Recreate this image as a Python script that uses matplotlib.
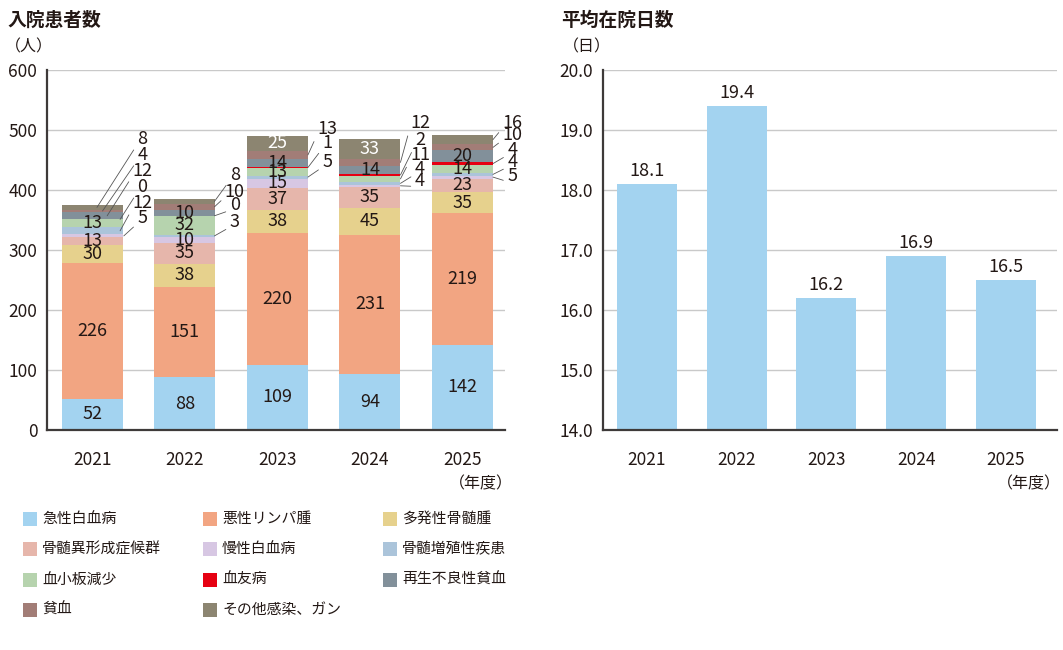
import matplotlib.pyplot as plt
from matplotlib.patches import Rectangle

plt.rcParams['font.family'] = ['Noto Sans CJK JP', 'DejaVu Sans']

years = ['2021', '2022', '2023', '2024', '2025']
categories = ['急性白血病', '悪性リンパ腫', '多発性骨髄腫', '骨髄異形成症候群', '慢性白血病',
              '骨髄増殖性疾患', '血小板減少', '血友病', '再生不良性貧血', '貧血', 'その他感染、ガン']
colors = ['#a3d3f0', '#f2a582', '#e6d18d', '#e6b6ab', '#d7c7e3', '#abc4da',
          '#b6d3ae', '#e60012', '#82909a', '#a27d77', '#8c8571']

# patients per category, one list per category (2021..2025)
acute_leukemia = [52, 88, 109, 94, 142]
lymphoma = [226, 151, 220, 231, 219]
myeloma = [30, 38, 38, 45, 35]
mds = [13, 35, 37, 35, 23]
chronic_leukemia = [5, 10, 15, 4, 5]
mpn = [12, 3, 5, 4, 4]
thrombocytopenia = [13, 32, 13, 11, 14]
hemophilia = [0, 0, 1, 2, 4]
aplastic_anemia = [12, 10, 14, 14, 20]
anemia = [4, 10, 13, 12, 10]
other = [8, 8, 25, 33, 16]
series = [acute_leukemia, lymphoma, myeloma, mds, chronic_leukemia, mpn,
          thrombocytopenia, hemophilia, aplastic_anemia, anemia, other]

# which segments get a leader label instead of an inner label (category index per year)
leader_cats = [[10, 9, 8, 7, 5, 4], [10, 9, 7, 5], [9, 7, 5], [9, 7, 6, 5, 4], [10, 9, 7, 5, 4]]
# label text heights for the leaders
leader_text_y = [[485, 458, 432, 405, 378, 353], [425, 397, 375, 347], [502, 478, 447],
                 [512, 483, 458, 435, 415], [512, 492, 467, 447, 423]]
leader_start_dx = [[0.05, 0.11, 0.16, 0.30, 0.30, 0.34], [0.32] * 4, [0.33] * 3,
                   [0.33] * 5, [0.33] * 5]

avg_stay = [18.1, 19.4, 16.2, 16.9, 16.5]

txt = '#231815'
fig = plt.figure(figsize=(10.63, 6.5), dpi=100)
W, H = 1063, 650

def px_axes(x0, y0, x1, y1):
    return fig.add_axes([x0 / W, 1 - y1 / H, (x1 - x0) / W, (y1 - y0) / H])

ax1 = px_axes(47, 70, 505, 430)
ax2 = px_axes(603, 70, 1057, 430)

xs = list(range(len(years)))
bw = 0.66
bottoms = [0] * len(years)
for ci, vals in enumerate(series):
    ax1.bar(xs, vals, bw, bottom=bottoms, color=colors[ci], zorder=2, linewidth=0)
    for i, v in enumerate(vals):
        if ci not in leader_cats[i] and v > 0:
            c = 'white' if ci == 10 else txt
            ax1.text(xs[i], bottoms[i] + v / 2, str(v), ha='center', va='center',
                     fontsize=13, color=c, zorder=3)
    bottoms = [b + v for b, v in zip(bottoms, vals)]

# leader labels
for i in xs:
    for k, ci in enumerate(leader_cats[i]):
        base = sum(series[j][i] for j in range(ci))
        v = series[ci][i]
        ax1.annotate(str(v), xy=(xs[i] + leader_start_dx[i][k], base + v / 2),
                     xytext=(xs[i] + 0.54, leader_text_y[i][k]),
                     ha='center', va='center', fontsize=13, color=txt,
                     arrowprops=dict(arrowstyle='-', color='#555555', lw=0.6,
                                     shrinkA=1, shrinkB=0, relpos=(0.0, 0.2)),
                     zorder=4)

ax1.set_ylim(0, 600)
ax1.set_xlim(-0.49, 4.46)
ax1.set_yticks(range(0, 601, 100))

ax2.bar(xs, avg_stay, 0.67, color=colors[0], zorder=2, linewidth=0)
for i, v in enumerate(avg_stay):
    ax2.annotate(f'{v:.1f}', xy=(xs[i], v), xytext=(0, 3), textcoords='offset points',
                 ha='center', va='bottom', fontsize=13, color=txt)
ax2.set_ylim(14, 20)
ax2.set_xlim(-0.49, 4.57)
ax2.set_yticks([14, 15, 16, 17, 18, 19, 20])
ax2.set_yticklabels([f'{t:.1f}' for t in [14, 15, 16, 17, 18, 19, 20]])

for ax in (ax1, ax2):
    ax.set_xticks(xs)
    ax.set_xticklabels(years)
    ax.tick_params(length=0, labelsize=12.5, colors=txt, pad=7)
    ax.tick_params(axis='x', pad=15)
    ax.grid(axis='y', color='#c9c9c9', lw=1, zorder=0)
    ax.spines['top'].set_visible(False)
    ax.spines['right'].set_visible(False)
    ax.spines['left'].set_color('#3e3a39')
    ax.spines['bottom'].set_color('#3e3a39')
    ax.spines['left'].set_linewidth(1.6)
    ax.spines['bottom'].set_linewidth(1.6)
    ax.set_axisbelow(True)

fig.text(7 / W, 1 - 20 / H, '入院患者数', fontsize=13.5, fontweight='bold', color=txt,
         va='center', ha='left')
fig.text(5 / W, 1 - 47 / H, '（人）', fontsize=11.5, color=txt, va='center', ha='left')
fig.text(513 / W, 1 - 484 / H, '（年度）', fontsize=11.5, color=txt, va='center', ha='right')
fig.text(561 / W, 1 - 20 / H, '平均在院日数', fontsize=13.5, fontweight='bold', color=txt,
         va='center', ha='left')
fig.text(563 / W, 1 - 47 / H, '（日）', fontsize=11.5, color=txt, va='center', ha='left')
fig.text(1061 / W, 1 - 484 / H, '（年度）', fontsize=11.5, color=txt, va='center', ha='right')

# legend, laid out row by row in three columns
col_x = [23, 203, 383]
row_y = [519, 549, 580, 610]
for k, (name, col) in enumerate(zip(categories, colors)):
    r, c = divmod(k, 3)
    x, y = col_x[c], row_y[r]
    fig.add_artist(Rectangle((x / W, 1 - (y + 7) / H), 14 / W, 14 / H,
                             transform=fig.transFigure, color=col, lw=0))
    fig.text((x + 19) / W, 1 - y / H, name, fontsize=10.7, color=txt, va='center', ha='left')

fig.savefig('out.png', dpi=100)
